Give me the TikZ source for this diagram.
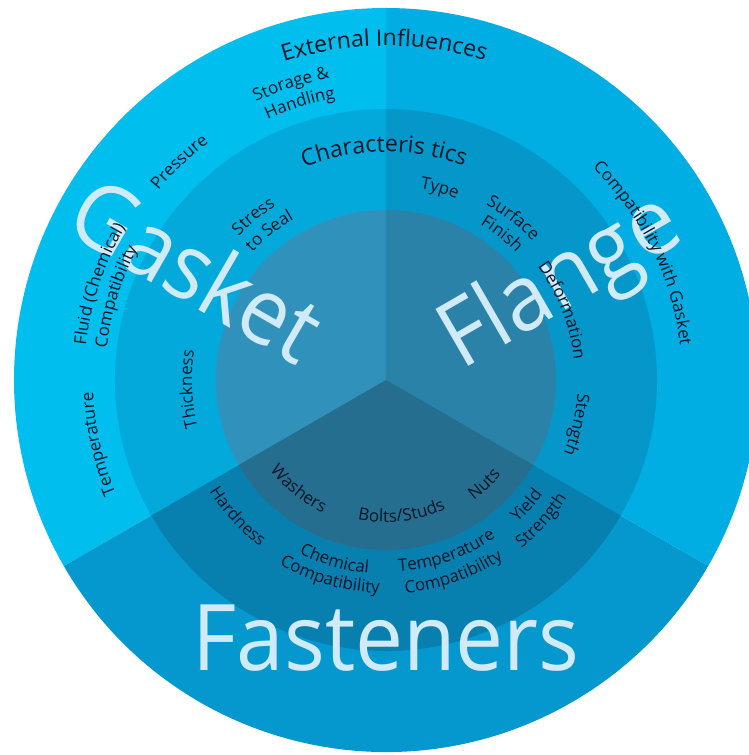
\documentclass[tikz,border=0pt]{standalone}
\usepackage{fontspec}
\setmainfont{Open Sans}
\newfontfamily\lblfont{Open Sans}
\newfontfamily\headfont{Open Sans}
\newfontfamily\bigfont[FakeStretch=0.93]{Open Sans}
\usetikzlibrary{decorations.text}
\definecolor{gasO}{HTML}{00BEEE}
\definecolor{gasM}{HTML}{04A9DB}
\definecolor{gasI}{HTML}{3092BB}
\definecolor{flaO}{HTML}{00AEE3}
\definecolor{flaM}{HTML}{0597C9}
\definecolor{flaI}{HTML}{2B82A9}
\definecolor{fasO}{HTML}{0598CE}
\definecolor{fasM}{HTML}{0780B0}
\definecolor{fasI}{HTML}{256E8F}
\definecolor{labelc}{HTML}{0A1526}
\definecolor{bigc}{HTML}{D0EBF7}
\newcommand\mysector[4]{\fill[#4] (0,0) -- (#1:#3pt) arc[start angle=#1,end angle=#2,radius=#3pt] -- cycle;}
% clockwise arc text: tops outward
\newcommand\cwlabel[5][\lblfont]{%
  \path[decorate,decoration={text along path,text align=center,
    text={|#1\fontsize{#4}{#4}\selectfont\color{labelc}|#5}}]
    (#3+60:#2pt) arc[start angle=#3+60,end angle=#3-60,radius=#2pt];}
% counter-clockwise arc text: tops inward
\newcommand\ccwlabel[5][\lblfont]{%
  \path[decorate,decoration={text along path,text align=center,
    text={|#1\fontsize{#4}{#4}\selectfont\color{labelc}|#5}}]
    (#3-60:#2pt) arc[start angle=#3-60,end angle=#3+60,radius=#2pt];}
\tikzset{bigword/.style={font=\bigfont\fontsize{92}{92}\selectfont, text=bigc, inner sep=0pt}}
\begin{document}
\begin{tikzpicture}
\fill[white] (-386pt,-375pt) rectangle (362pt,380pt);
\useasboundingbox (-386pt,-375pt) rectangle (362pt,380pt);
% outer ring
\mysector{90}{210}{372}{gasO}
\mysector{-30}{90}{372}{flaO}
\mysector{210}{330}{372}{fasO}
% middle ring
\mysector{90}{210}{271}{gasM}
\mysector{-30}{90}{271}{flaM}
\mysector{210}{330}{271}{fasM}
% inner
\mysector{90}{210}{170}{gasI}
\mysector{-30}{90}{170}{flaI}
\mysector{210}{330}{170}{fasI}
% big words
\node[bigword, rotate=-30, anchor=base] (gasket) at (-206pt,81pt) {Gasket};
\node[bigword, rotate=30, anchor=base] (flange) at (188pt,75pt) {Flange};
\node[bigword, anchor=base] (fasteners) at (0pt,-290pt) {Fasteners};
% headings
\cwlabel[\headfont]{334}{90.3}{23}{External Influences}
\cwlabel[\headfont]{228}{90.5}{23}{Characteris tics}
% gasket outer
\cwlabel{307}{107.8}{17}{Storage {\&}}
\cwlabel{286}{107.3}{17}{Handling}
\cwlabel{296}{133.5}{17}{Pressure}
\cwlabel{302}{161.5}{17}{Fluid (Chemical)}
\cwlabel{281}{162.8}{17}{Compatibility}
\cwlabel{293}{192.6}{17}{Temperature}
% gasket middle
\cwlabel{206}{129}{17}{Stress}
\cwlabel{185}{128}{17}{to Seal}
\cwlabel{194}{182.6}{17}{Thickness}
% flange
\cwlabel{194}{74.3}{17}{Type}
\cwlabel{202}{51.9}{17}{Surface}
\cwlabel{182}{51.6}{17}{Finish}
\cwlabel{189}{21.4}{17}{Deformation}
\cwlabel{192}{-13.2}{17}{Stength}
\cwlabel{296}{26.2}{17}{Compatibility with Gasket}
% fasteners
\ccwlabel{209}{222.6}{17}{Hardness}
\ccwlabel{147}{231.3}{17}{Washers}
\ccwlabel{142}{276.7}{17}{Bolts/Studs}
\ccwlabel{149}{313.3}{17}{Nuts}
\ccwlabel{194}{254.1}{17}{Chemical}
\ccwlabel{213}{254.1}{17}{Compatibility}
\ccwlabel{192}{289.3}{17}{Temperature}
\ccwlabel{214}{289.2}{17}{Compatibility}
\ccwlabel{194}{318.2}{17}{Yield}
\ccwlabel{216}{317.9}{17}{Strength}
\end{tikzpicture}
\end{document}
